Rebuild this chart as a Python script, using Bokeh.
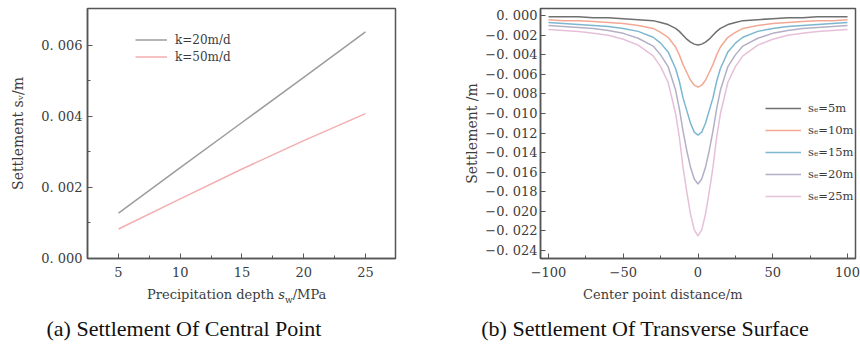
from bokeh.plotting import figure
from bokeh.layouts import row, column
from bokeh.models import Range1d, FixedTicker, Legend, LegendItem, Div
from bokeh.core.properties import value
from bokeh.embed import file_html
from bokeh.resources import INLINE

# ---------------- data: (a) settlement of central point ----------------
depth = [5, 10, 15, 20, 25]
settle_k20 = [0.00128, 0.00256, 0.00383, 0.00510, 0.00638]
settle_k50 = [0.00083, 0.00168, 0.00252, 0.00332, 0.00408]
left_names = ["k=20m/d", "k=50m/d"]
left_xticks = [5, 10, 15, 20, 25]
left_xminor = [7.5, 12.5, 17.5, 22.5]
left_xtick_labels = ["5", "10", "15", "20", "25"]
left_yticks = [0.0, 0.002, 0.004, 0.006]
left_yminor = [0.001, 0.003, 0.005]
left_ytick_labels = ["0. 000", "0. 002", "0. 004", "0. 006"]

# ---------------- data: (b) settlement of transverse surface ----------------
dist = [-100, -90, -80, -70, -60, -50, -40, -30, -25, -20, -15, -12.5, -10, -7.5, -5, -2.5, 0,
        2.5, 5, 7.5, 10, 12.5, 15, 20, 25, 30, 40, 50, 60, 70, 80, 90, 100]
s5 = [-0.0001, -0.0001, -0.0001, -0.0002, -0.0002, -0.0003, -0.0004, -0.0005, -0.0007, -0.0009,
      -0.0013, -0.0016, -0.0020, -0.0024, -0.0027, -0.0029, -0.0030, -0.0029, -0.0027, -0.0024,
      -0.0020, -0.0016, -0.0013, -0.0009, -0.0007, -0.0005, -0.0004, -0.0003, -0.0002, -0.0002,
      -0.0001, -0.0001, -0.0001]
s10 = [-0.0004, -0.0005, -0.0005, -0.0006, -0.0007, -0.0008, -0.0010, -0.0013, -0.0017, -0.0022,
       -0.0032, -0.0040, -0.0050, -0.0058, -0.0066, -0.0071, -0.0073, -0.0071, -0.0066, -0.0058,
       -0.0050, -0.0040, -0.0032, -0.0022, -0.0017, -0.0013, -0.0010, -0.0008, -0.0007, -0.0006,
       -0.0005, -0.0005, -0.0004]
s15 = [-0.0007, -0.0008, -0.0009, -0.0010, -0.0011, -0.0013, -0.0016, -0.0022, -0.0028, -0.0037,
       -0.0054, -0.0067, -0.0084, -0.0097, -0.0110, -0.0119, -0.0122, -0.0119, -0.0110, -0.0097,
       -0.0084, -0.0067, -0.0054, -0.0037, -0.0028, -0.0022, -0.0016, -0.0013, -0.0011, -0.0010,
       -0.0009, -0.0008, -0.0007]
s20 = [-0.0010, -0.0011, -0.0012, -0.0013, -0.0015, -0.0018, -0.0023, -0.0031, -0.0040, -0.0052,
       -0.0076, -0.0095, -0.0118, -0.0138, -0.0155, -0.0167, -0.0172, -0.0167, -0.0155, -0.0138,
       -0.0118, -0.0095, -0.0076, -0.0052, -0.0040, -0.0031, -0.0023, -0.0018, -0.0015, -0.0013,
       -0.0012, -0.0011, -0.0010]
s25 = [-0.0014, -0.0015, -0.0016, -0.0018, -0.0020, -0.0024, -0.0030, -0.0041, -0.0052, -0.0068,
       -0.0100, -0.0124, -0.0155, -0.0180, -0.0203, -0.0219, -0.0225, -0.0219, -0.0203, -0.0180,
       -0.0155, -0.0124, -0.0100, -0.0068, -0.0052, -0.0041, -0.0030, -0.0024, -0.0020, -0.0018,
       -0.0016, -0.0015, -0.0014]
right_series = [s5, s10, s15, s20, s25]
right_names = ["s\u2091=5m", "s\u2091=10m", "s\u2091=15m", "s\u2091=20m", "s\u2091=25m"]
right_xticks = [-100, -50, 0, 50, 100]
right_xminor = [-75, -25, 25, 75]
right_xtick_labels = ["\u2212100", "\u221250", "0", "50", "100"]
right_yticks = [0.0, -0.002, -0.004, -0.006, -0.008, -0.010, -0.012, -0.014, -0.016, -0.018,
                -0.020, -0.022, -0.024]
right_ytick_labels = ["0. 000", "\u22120. 002", "\u22120. 004", "\u22120. 006", "\u22120. 008",
                      "\u22120. 010", "\u22120. 012", "\u22120. 014", "\u22120. 016", "\u22120. 018",
                      "\u22120. 020", "\u22120. 022", "\u22120. 024"]

# ---------------- styles ----------------
TXT = "#3c3c3c"
AX = "#555555"
TICK_FONT = "DejaVu Serif"
LEFT_COLORS = ["#9c9c9c", "#f3aeb0"]
RIGHT_COLORS = ["#707070", "#f2a894", "#7db7cf", "#b3b0c6", "#e6bfd9"]


def style_axes(p, xticks, xminor, xlabels, yticks, yminor, ylabels, ystand, xstand,
               ylabel, ylabel_stand):
    p.xaxis.ticker = FixedTicker(ticks=xticks, minor_ticks=xminor)
    p.yaxis.ticker = FixedTicker(ticks=yticks, minor_ticks=yminor)
    p.xaxis.major_label_overrides = dict(zip(xticks, xlabels))
    p.yaxis.major_label_overrides = dict(zip(yticks, ylabels))
    for ax in (p.xaxis[0], p.yaxis[0]):
        ax.axis_line_color = AX
        ax.axis_line_width = 1.5
        ax.major_tick_line_color = AX
        ax.minor_tick_line_color = AX
        ax.major_tick_in = 5
        ax.major_tick_out = 0
        ax.minor_tick_in = 3
        ax.minor_tick_out = 0
        ax.major_label_text_font = TICK_FONT
        ax.major_label_text_font_size = "13px"
        ax.major_label_text_color = TXT
    p.yaxis.major_label_standoff = ystand
    p.xaxis.major_label_standoff = xstand
    p.yaxis.axis_label = ylabel
    p.yaxis.axis_label_text_font = TICK_FONT
    p.yaxis.axis_label_text_font_size = "14px"
    p.yaxis.axis_label_text_font_style = "normal"
    p.yaxis.axis_label_text_color = TXT
    p.yaxis.axis_label_standoff = ylabel_stand
    p.outline_line_color = AX
    p.outline_line_width = 1.5
    p.xgrid.visible = False
    p.ygrid.visible = False


# ---------------- left figure ----------------
p1 = figure(width=430, height=285, output_backend="svg", toolbar_location=None,
            x_range=Range1d(2.49, 27.43), y_range=Range1d(0.0, 0.00704),
            min_border_left=87, min_border_right=35, min_border_top=8, min_border_bottom=26,
            background_fill_color="white", border_fill_color="white")
style_axes(p1, left_xticks, left_xminor, left_xtick_labels, left_yticks, left_yminor,
           left_ytick_labels, 5, 8, "Settlement s\u1d65/m", 12)
r_a = p1.line(depth, settle_k20, line_color=LEFT_COLORS[0], line_width=1.5)
r_b = p1.line(depth, settle_k50, line_color=LEFT_COLORS[1], line_width=1.5)
leg1 = Legend(items=[LegendItem(label=value(left_names[0]), renderers=[r_a]),
                     LegendItem(label=value(left_names[1]), renderers=[r_b])],
              location=(48, 193), padding=0, margin=0, spacing=0, glyph_width=32,
              glyph_height=17, label_height=17, label_standoff=8,
              label_text_font=TICK_FONT, label_text_font_size="12px", label_text_color=TXT,
              border_line_alpha=0, background_fill_alpha=0)
p1.add_layout(leg1)

# ---------------- right figure ----------------
p2 = figure(width=430, height=285, output_backend="svg", toolbar_location=None,
            x_range=Range1d(-105.35, 105.35), y_range=Range1d(-0.02482, 0.00074),
            min_border_left=110, min_border_right=5, min_border_top=6, min_border_bottom=27,
            background_fill_color="white", border_fill_color="white")
style_axes(p2, right_xticks, right_xminor, right_xtick_labels, right_yticks, [],
           right_ytick_labels, 3, 8, "Settlement /m", 2)
items = []
for ys, c, n in zip(right_series, RIGHT_COLORS, right_names):
    r = p2.line(dist, ys, line_color=c, line_width=1.5)
    items.append(LegendItem(label=value(n), renderers=[r]))
leg2 = Legend(items=items, location=(225, 51), padding=0, margin=0, spacing=0,
              glyph_width=36, glyph_height=22, label_height=22, label_standoff=7,
              label_text_font=TICK_FONT, label_text_font_size="11.5px", label_text_color=TXT,
              border_line_alpha=0, background_fill_alpha=0)
p2.add_layout(leg2)

# ---------------- x-axis titles and captions (below the plots) ----------------
XLAB = ("position:absolute;top:1px;white-space:nowrap;line-height:18px;"
        "font-family:'DejaVu Serif',serif;font-size:13px;color:%s;" % TXT)
CAP = ("position:absolute;top:31px;white-space:nowrap;line-height:26px;text-align:center;"
       "font-family:'Liberation Serif','Times New Roman',Times,serif;font-size:22px;"
       "color:#111111;")

html_a = ('<div style="position:relative;width:430px;height:63px;">'
          '<div style="%sleft:147px;">Precipitation depth <i>s</i>'
          '<sub style="font-size:9px;">w</sub>/MPa</div>'
          '<div style="%sleft:34px;width:300px;">(a) Settlement Of Central Point</div>'
          '</div>') % (XLAB, CAP)
html_b = ('<div style="position:relative;width:430px;height:63px;">'
          '<div style="%sleft:153px;">Center point distance/m</div>'
          '<div style="%sleft:15px;width:400px;">(b) Settlement Of Transverse Surface</div>'
          '</div>') % (XLAB, CAP)

d1 = Div(text=html_a, width=430, height=63, margin=(0, 0, 0, 0))
d2 = Div(text=html_b, width=430, height=63, margin=(0, 0, 0, 0))

layout = column(row(p1, p2), row(d1, d2))
open("out.html", "w").write(file_html(layout, INLINE))
